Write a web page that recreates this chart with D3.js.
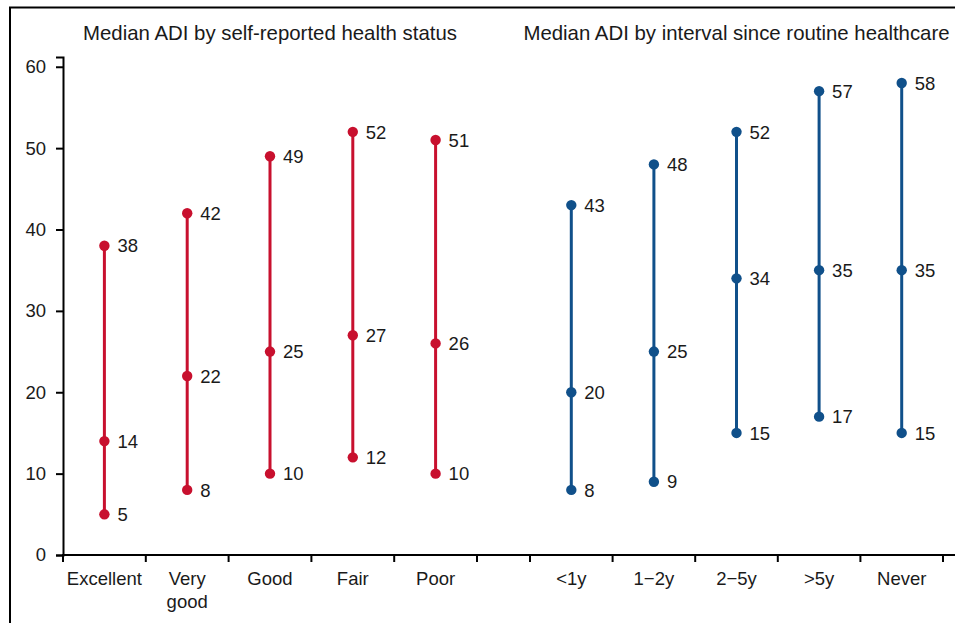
<!DOCTYPE html>
<html>
<head>
<meta charset="utf-8">
<script src="https://cdn.jsdelivr.net/npm/d3@7"></script>
<style>
  body { margin: 0; background: #fff; }
  text { font-family: "Liberation Sans", Arial, sans-serif; fill: #1a1a1a; }
</style>
</head>
<body>
<figure id="adi" style="margin:0"></figure>
<script>
// left panel: self-reported health status
const healthCats = ["Excellent", "Very good", "Good", "Fair", "Poor"];
const healthLow = [5, 8, 10, 12, 10];
const healthMid = [14, 22, 25, 27, 26];
const healthHigh = [38, 42, 49, 52, 51];

// right panel: interval since routine healthcare
const careCats = ["<1y", "1\u22122y", "2\u22125y", ">5y", "Never"];
const careLow = [8, 9, 15, 17, 15];
const careMid = [20, 25, 34, 35, 35];
const careHigh = [43, 48, 52, 57, 58];

const yTicks = [0, 10, 20, 30, 40, 50, 60];

const width = 955, height = 623;
const red = "#c8102e", blue = "#10508a";

const svg = d3.select("figure#adi")
  .append("svg")
  .attr("width", width)
  .attr("height", height);

// frame (only top and left edges are in view)
svg.append("path")
  .attr("d", "M10,625V7.5H960")
  .attr("fill", "none")
  .attr("stroke", "#000")
  .attr("stroke-width", 2);

const y = d3.scaleLinear()
  .domain([0, 61.2])
  .range([555, 57]);

const xLeft = d3.scaleBand().domain(healthCats).range([63, 477]);
const xRight = d3.scaleBand().domain(careCats).range([530, 943]);

// y axis
const yAxis = svg.append("g")
  .attr("transform", "translate(63,0)")
  .call(d3.axisLeft(y).tickValues(yTicks).tickSize(7).tickPadding(10));
yAxis.select(".domain").attr("stroke-width", 2);
yAxis.selectAll(".tick line").attr("stroke-width", 2);
yAxis.selectAll("text").style("font-size", "18.5px").attr("fill", "#1a1a1a")
  .attr("font-family", null);

// x axis baseline spanning both panels
svg.append("line")
  .attr("x1", 62).attr("x2", 955)
  .attr("y1", y(0)).attr("y2", y(0))
  .attr("stroke", "#000").attr("stroke-width", 2);

// tick marks at band boundaries
function boundaries(scale) {
  const b = scale.domain().map(d => scale(d));
  b.push(scale.range()[1]);
  return b;
}
const tickXs = boundaries(xLeft).concat(boundaries(xRight));
svg.append("g").selectAll("line")
  .data(tickXs)
  .enter()
  .append("line")
  .attr("x1", d => d).attr("x2", d => d)
  .attr("y1", y(0)).attr("y2", y(0) + 7)
  .attr("stroke", "#000").attr("stroke-width", 2);

function drawPanel(scale, cats, low, mid, high, color, title) {
  const rows = cats.map((c, i) => ({ cat: c, vals: [low[i], mid[i], high[i]] }));
  const g = svg.append("g");

  // category labels (wrap on space for "Very good")
  rows.forEach(r => {
    const cx = scale(r.cat) + scale.bandwidth() / 2;
    const words = r.cat === "Very good" ? ["Very", "good"] : [r.cat];
    const t = g.append("text")
      .attr("x", cx).attr("y", 585)
      .attr("text-anchor", "middle")
      .style("font-size", "18.5px");
    words.forEach((w, k) => {
      t.append("tspan").attr("x", cx).attr("dy", k === 0 ? 0 : 23).text(w);
    });
  });

  // range lines
  g.selectAll(".rng")
    .data(rows)
    .enter()
    .append("line")
    .attr("x1", d => scale(d.cat) + scale.bandwidth() / 2)
    .attr("x2", d => scale(d.cat) + scale.bandwidth() / 2)
    .attr("y1", d => y(d.vals[0]))
    .attr("y2", d => y(d.vals[2]))
    .attr("stroke", color)
    .attr("stroke-width", 3);

  const pts = rows.flatMap(d => d.vals.map(v => ({ cat: d.cat, v })));

  g.selectAll(".pt")
    .data(pts)
    .enter()
    .append("circle")
    .attr("cx", d => scale(d.cat) + scale.bandwidth() / 2)
    .attr("cy", d => y(d.v))
    .attr("r", 5.2)
    .attr("fill", color);

  g.selectAll(".lbl")
    .data(pts)
    .enter()
    .append("text")
    .attr("x", d => scale(d.cat) + scale.bandwidth() / 2 + 13)
    .attr("y", d => y(d.v))
    .attr("dy", "0.36em")
    .style("font-size", "18.5px")
    .text(d => d.v);

  const [r0, r1] = scale.range();
  g.append("text")
    .attr("x", (r0 + r1) / 2)
    .attr("y", 40)
    .attr("text-anchor", "middle")
    .style("font-size", "20.4px")
    .text(title);
}

drawPanel(xLeft, healthCats, healthLow, healthMid, healthHigh, red,
  "Median ADI by self-reported health status");
drawPanel(xRight, careCats, careLow, careMid, careHigh, blue,
  "Median ADI by interval since routine healthcare");
</script>
</body>
</html>
